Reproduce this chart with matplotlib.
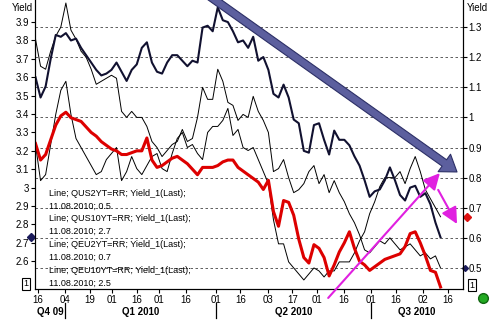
import matplotlib
matplotlib.use('Agg')
import matplotlib.pyplot as plt
import matplotlib.transforms as mtransforms
import numpy as np
import pandas as pd

plt.rcParams['font.family'] = ['Liberation Sans', 'DejaVu Sans']

# trading calendar of the x axis (US holidays skipped)
holidays = ['2009-12-25', '2010-01-01', '2010-01-18', '2010-02-15',
            '2010-04-02', '2010-05-31', '2010-07-05']
tdays = pd.bdate_range('2009-12-15', '2010-08-31', freq='C', holidays=holidays)
last_day = '2010-08-11'

# yields, evenly spaced from 15.12.2009 to 11.08.2010
us10 = [3.60, 3.49, 3.55, 3.70, 3.83, 3.82, 3.84, 3.80, 3.81, 3.76,
        3.72, 3.68, 3.64, 3.61, 3.62, 3.64, 3.68, 3.63, 3.58, 3.64,
        3.67, 3.76, 3.79, 3.68, 3.63, 3.62, 3.68, 3.72, 3.72, 3.69,
        3.66, 3.69, 3.68, 3.87, 3.88, 3.85, 3.98, 3.91, 3.90, 3.85,
        3.79, 3.80, 3.76, 3.82, 3.69, 3.71, 3.64, 3.51, 3.49, 3.56,
        3.49, 3.37, 3.35, 3.20, 3.19, 3.34, 3.35, 3.26, 3.18, 3.31,
        3.26, 3.26, 3.23, 3.17, 3.12, 3.04, 2.95, 2.98, 2.99, 3.04,
        3.11, 3.04, 2.96, 2.93, 3.00, 3.01, 2.95, 2.97, 2.91, 2.81,
        2.73]
eu10 = [3.24, 3.15, 3.18, 3.26, 3.34, 3.39, 3.41, 3.38, 3.37, 3.36,
        3.33, 3.30, 3.28, 3.25, 3.23, 3.21, 3.20, 3.18, 3.18, 3.19,
        3.20, 3.20, 3.27, 3.15, 3.11, 3.12, 3.14, 3.16, 3.17, 3.15,
        3.13, 3.10, 3.07, 3.11, 3.11, 3.11, 3.12, 3.14, 3.15, 3.15,
        3.11, 3.09, 3.07, 3.05, 3.03, 2.99, 3.04, 2.87, 2.79, 2.93,
        2.92, 2.85, 2.72, 2.62, 2.59, 2.69, 2.67, 2.62, 2.52, 2.58,
        2.65, 2.70, 2.76, 2.67, 2.60, 2.58, 2.55, 2.57, 2.59, 2.61,
        2.62, 2.63, 2.64, 2.68, 2.75, 2.76, 2.70, 2.63, 2.55, 2.54,
        2.46]
us2 = [1.26, 1.17, 1.16, 1.22, 1.27, 1.30, 1.38, 1.29, 1.26, 1.22,
       1.20, 1.16, 1.11, 1.12, 1.13, 1.14, 1.13, 1.02, 1.00, 1.02,
       1.00, 1.00, 0.97, 0.92, 0.90, 0.87, 0.89, 0.91, 0.92, 0.96,
       0.92, 0.93, 1.00, 1.10, 1.06, 1.06, 1.16, 1.12, 1.05, 1.04,
       0.99, 1.01, 1.00, 1.07, 1.02, 0.99, 0.95, 0.82, 0.83, 0.86,
       0.80, 0.75, 0.76, 0.78, 0.82, 0.84, 0.78, 0.81, 0.75, 0.79,
       0.75, 0.72, 0.68, 0.65, 0.61, 0.56, 0.55, 0.57, 0.59, 0.58,
       0.60, 0.58, 0.56, 0.57, 0.58, 0.56, 0.54, 0.55, 0.53, 0.54,
       0.50]
eu2 = [0.91, 0.79, 0.81, 0.91, 1.01, 1.09, 1.12, 1.01, 0.93, 0.90,
       0.87, 0.84, 0.81, 0.82, 0.86, 0.88, 0.90, 0.79, 0.82, 0.87,
       0.83, 0.81, 0.84, 0.87, 0.88, 0.83, 0.82, 0.88, 0.93, 0.95,
       0.90, 0.91, 0.88, 0.86, 0.95, 0.97, 0.97, 0.99, 1.03, 0.94,
       0.96, 0.90, 0.89, 0.90, 0.86, 0.82, 0.78, 0.66, 0.58, 0.58,
       0.52, 0.50, 0.48, 0.46, 0.48, 0.50, 0.49, 0.47, 0.49, 0.49,
       0.52, 0.52, 0.52, 0.55, 0.59, 0.62, 0.68, 0.72, 0.77, 0.80,
       0.80, 0.80, 0.82, 0.78, 0.83, 0.87, 0.82, 0.76, 0.73, 0.70,
       0.67]

tick_dates = ['2009-12-16', '2010-01-04', '2010-01-19', '2010-02-01', '2010-02-16',
              '2010-03-01', '2010-03-16', '2010-04-01', '2010-04-16', '2010-05-03',
              '2010-05-17', '2010-06-01', '2010-06-16', '2010-07-01', '2010-07-16',
              '2010-08-02', '2010-08-16']
quarter_starts = ['2010-01-04', '2010-04-01', '2010-07-01']
quarter_names = ['Q4 09', 'Q1 2010', 'Q2 2010', 'Q3 2010']
rics = ['QUS2YT=RR', 'QUS10YT=RR', 'QEU2YT=RR', 'QEU10YT=RR']


def pos(d):
    return tdays.get_loc(pd.Timestamp(d))


x = np.linspace(0, pos(last_day), len(us10))
xlim = (-0.2, 173.1)

fig = plt.figure(figsize=(4.97, 3.25), dpi=100)
ax = fig.add_axes([35 / 497, 36 / 325, 428 / 497, 289 / 325])
ax2 = ax.twinx()
ax.set_zorder(ax2.get_zorder() + 1)
ax.patch.set_visible(False)

# right axis: 2y yields + grid
ax2.plot(x, us2, color='black', lw=0.7)
ax2.plot(x, eu2, color='black', lw=0.7)
ax2.set_ylim(0.430, 1.390)
r_ticks = np.round(np.arange(0.5, 1.35, 0.1), 1)
ax2.set_yticks(r_ticks)
ax2.set_yticklabels([f'{v:g}' for v in r_ticks])
ax2.yaxis.grid(True, linestyle=(0, (3, 3)), color='#444444', lw=0.6)
ax2.tick_params(axis='y', length=3, labelsize=7, pad=1)

# left axis: 10y yields
ax.plot(x, us10, color='#111130', lw=1.5)
ax.plot(x, eu10, color='#dd0000', lw=2.2)
ax.set_ylim(2.449, 4.020)
l_ticks = np.round(np.arange(2.6, 3.95, 0.1), 1)
ax.set_yticks(l_ticks)
ax.set_yticklabels([f'{v:g}' for v in l_ticks])
ax.tick_params(axis='y', length=3, labelsize=7, pad=1.5)

ax.set_xlim(*xlim)
ax.set_xticks([pos(d) for d in tick_dates])
ax.set_xticklabels([d[-2:] for d in tick_dates])
ax.tick_params(axis='x', length=3, labelsize=7, pad=1.5)
for a in (ax, ax2):
    a.spines['top'].set_visible(False)
    for s in a.spines.values():
        s.set_linewidth(0.8)

# quarter labels and separators
bx = mtransforms.blended_transform_factory(ax.transData, ax.transAxes)
bounds = [xlim[0]] + [pos(d) for d in quarter_starts] + [xlim[1]]
for i, name in enumerate(quarter_names):
    ax.text((bounds[i] + bounds[i + 1]) / 2, -0.08, name, transform=bx,
            ha='center', va='center', fontsize=7, fontweight='bold')
for d in quarter_starts:
    ax.plot([pos(d), pos(d)], [-0.048, -0.100], color='black', lw=0.9,
            transform=bx, clip_on=False)

# legend text block
series_last = [us2[-1], us10[-1], eu2[-1], eu10[-1]]
row = 0
for ric, last in zip(rics, series_last):
    ax.text(0.033, 0.332 - row * 0.0446, f'Line; {ric}; Yield_1(Last);',
            transform=ax.transAxes, fontsize=6.5, va='center')
    ax.text(0.033, 0.332 - (row + 1) * 0.0446, f'11.08.2010; {last:.1f}',
            transform=ax.transAxes, fontsize=6.5, va='center')
    row += 2

# last value markers
tl = mtransforms.blended_transform_factory(ax.transAxes, ax.transData)
tr = mtransforms.blended_transform_factory(ax2.transAxes, ax2.transData)
ax.plot([-0.009], [us10[-1]], marker='D', ms=4, color='#1a1a5a', transform=tl, clip_on=False)
ax2.plot([1.009], [eu2[-1]], marker='D', ms=4, color='#dd1111', transform=tr, clip_on=False)
ax2.plot([1.005], [us2[-1]], marker='D', ms=3, color='#1a1a5a', transform=tr, clip_on=False)

# drawn-on trend arrows
ax.annotate('', xy=(0.986, 0.405), xytext=(0.409, 1.012), xycoords='axes fraction',
            annotation_clip=False,
            arrowprops=dict(arrowstyle='simple,head_length=0.8,head_width=1.1,tail_width=0.4',
                            mutation_scale=14, fc='#5c5f9e', ec='#2c2f66', lw=0.8,
                            shrinkA=0, shrinkB=0))
ax.annotate('', xy=(0.946, 0.401), xytext=(0.685, -0.031), xycoords='axes fraction',
            annotation_clip=False,
            arrowprops=dict(arrowstyle='-|>,head_length=0.7,head_width=0.35',
                            mutation_scale=14, color='#e020e0', lw=1.5,
                            shrinkA=0, shrinkB=0))
ax.annotate('', xy=(0.986, 0.225), xytext=(0.942, 0.343), xycoords='axes fraction',
            annotation_clip=False,
            arrowprops=dict(arrowstyle='-|>,head_length=0.7,head_width=0.35',
                            mutation_scale=14, color='#e020e0', lw=1.5,
                            shrinkA=0, shrinkB=0))

# header labels, boxes and status dot
fig.text(12 / 497, 1 - 8 / 325, 'Yield', fontsize=7, va='center')
fig.text(467 / 497, 1 - 8 / 325, 'Yield', fontsize=7, va='center')
box = dict(boxstyle='square,pad=0.15', fc='white', ec='black', lw=0.8)
fig.text(26 / 497, 1 - 284 / 325, '1', fontsize=6.5, ha='center', va='center', bbox=box)
fig.text(472 / 497, 1 - 285 / 325, '1', fontsize=6.5, ha='center', va='center', bbox=box)
ax.plot([483 / 497], [1 - 298 / 325], marker='o', ms=7, mfc='#22aa22', mec='#116611',
        transform=fig.transFigure, clip_on=False)

fig.savefig('out.png', dpi=100)
